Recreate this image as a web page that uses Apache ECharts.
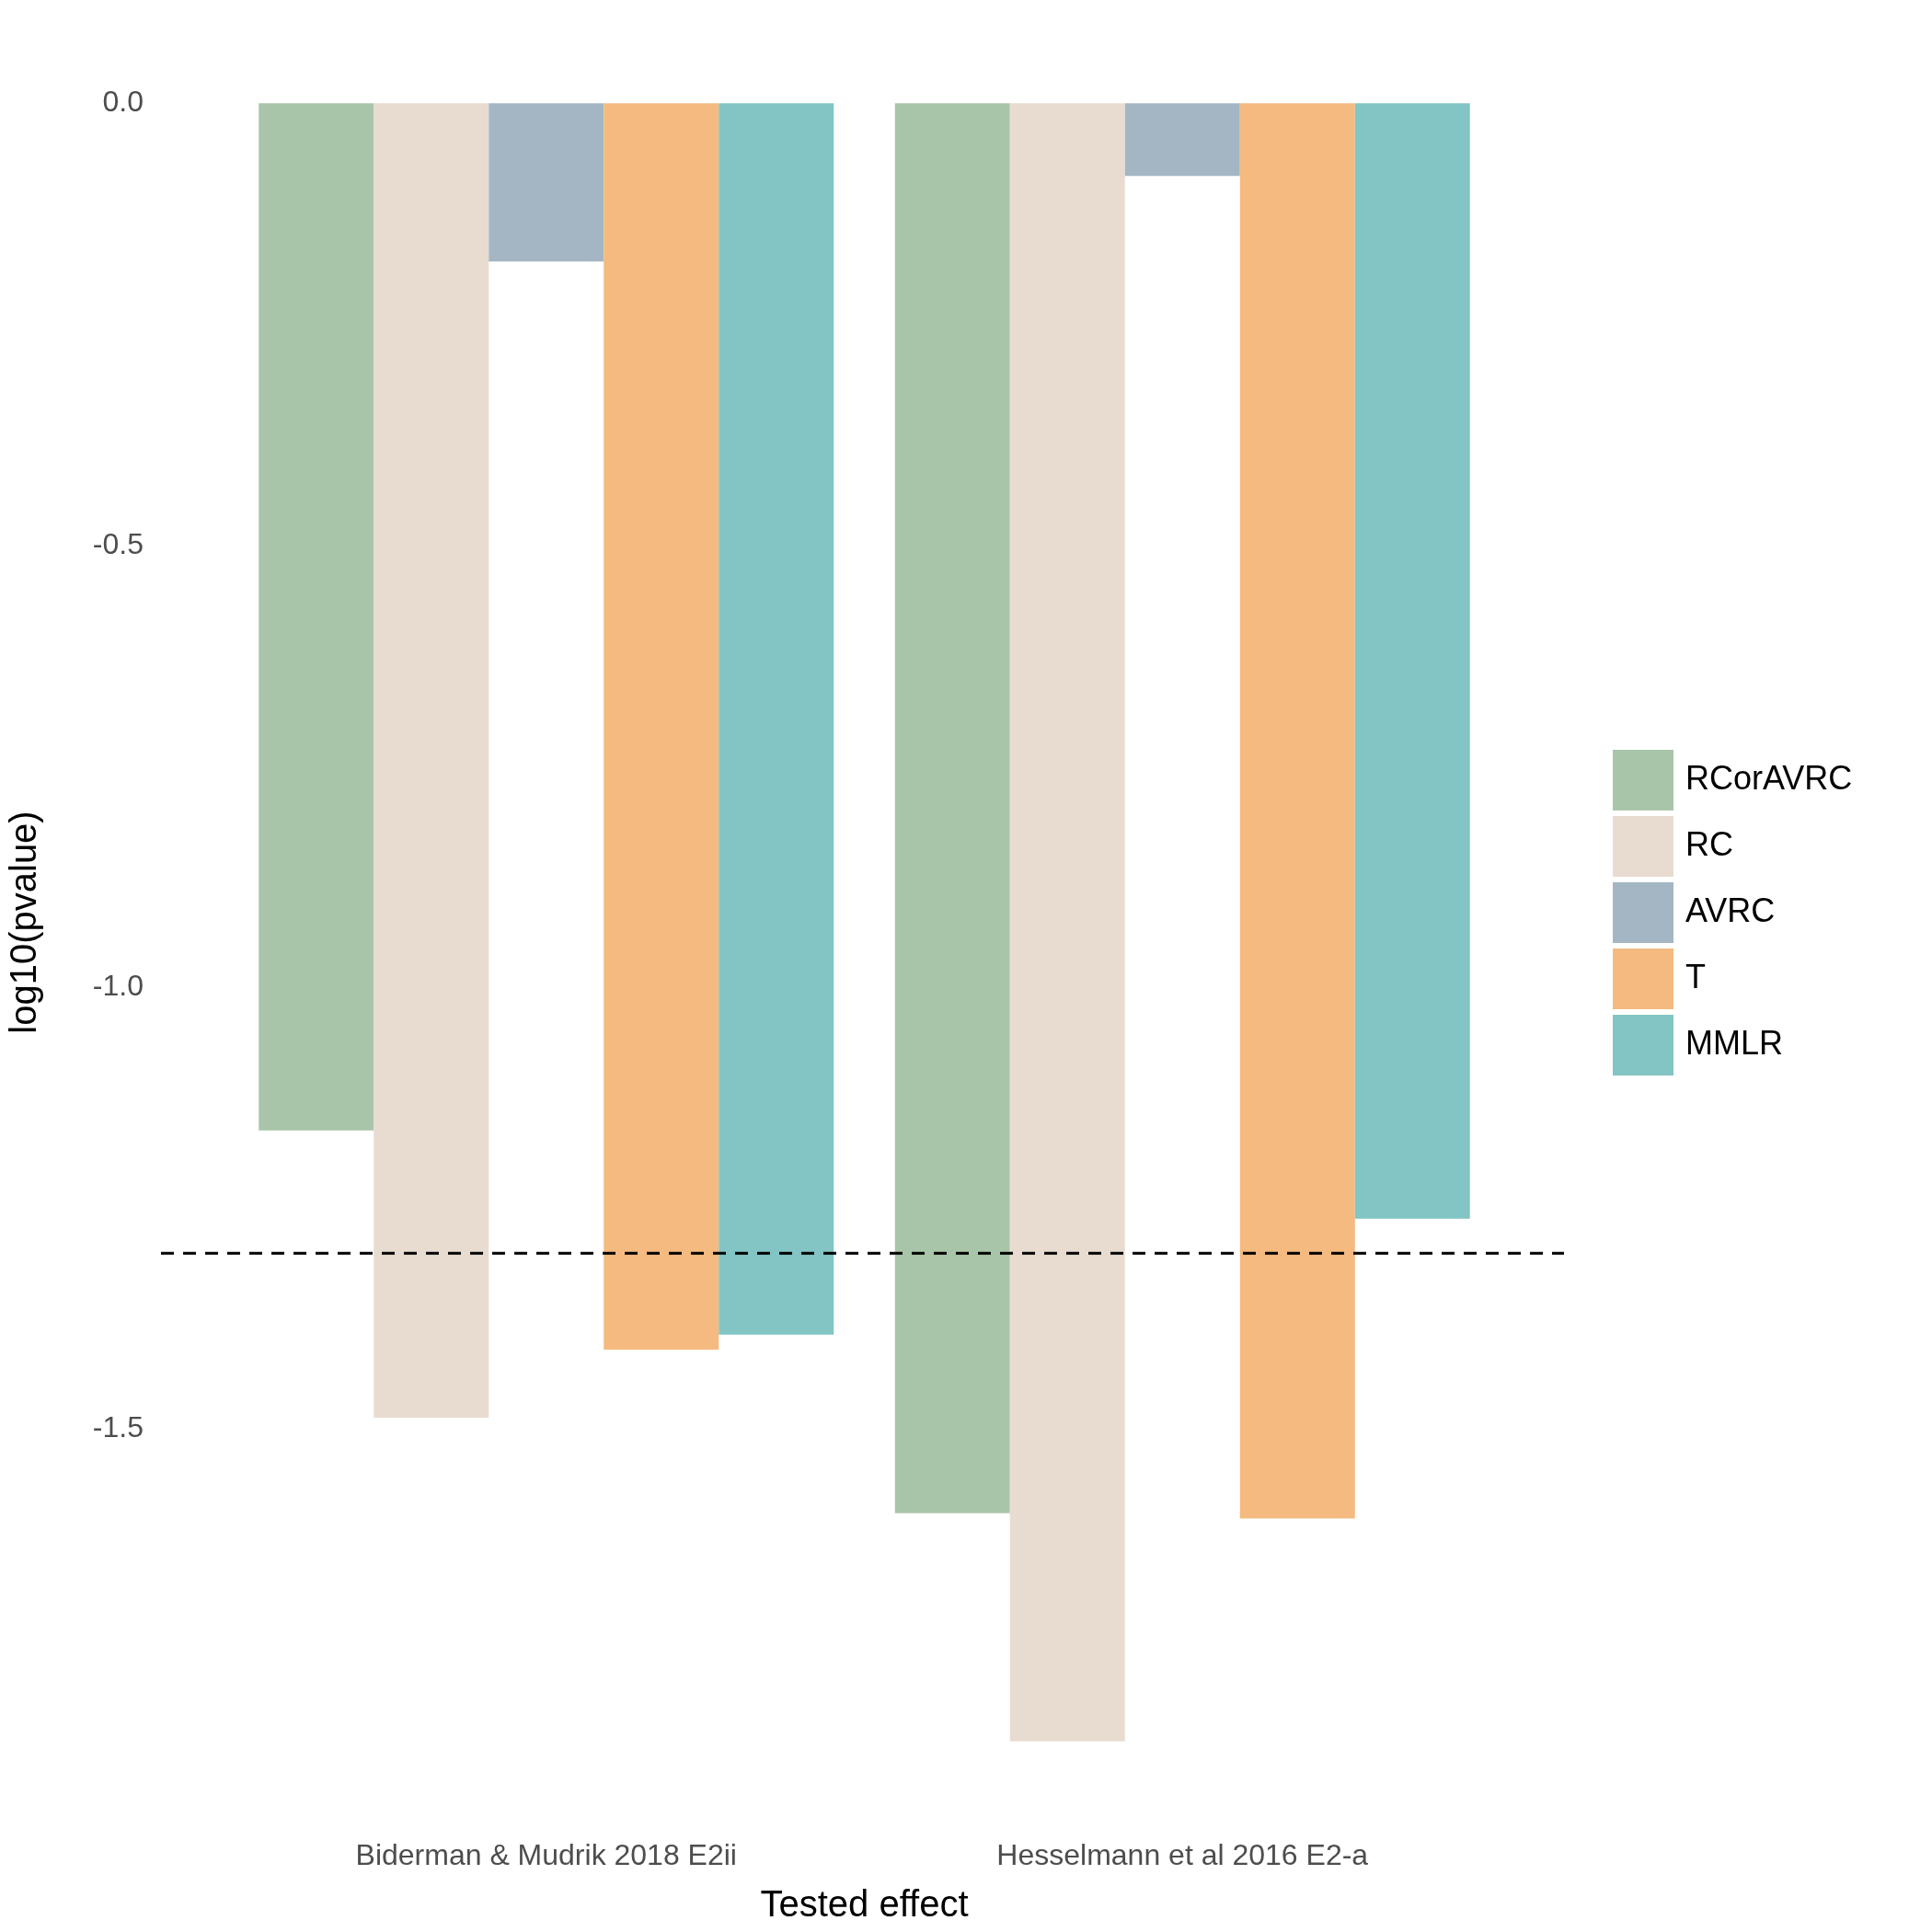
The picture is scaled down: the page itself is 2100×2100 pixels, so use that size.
<!DOCTYPE html>
<html>
<head>
<meta charset="utf-8">
<script src="https://cdn.jsdelivr.net/npm/echarts@6/dist/echarts.min.js"></script>
<style>html,body{margin:0;padding:0;background:#fff}#main{width:2100px;height:2100px}</style>
</head>
<body>
<div id="main"></div>
<script>
var effects = ['Biderman & Mudrik 2018 E2ii', 'Hesselmann et al 2016 E2-a'];
var methods = ['RCorAVRC', 'RC', 'AVRC', 'T', 'MMLR'];
var colors = ['#a9c5a9', '#e8dcd1', '#a4b6c3', '#f5ba80', '#82c5c4'];
var values = {
    RCorAVRC: [-1.162, -1.595],
    RC: [-1.487, -1.853],
    AVRC: [-0.179, -0.082],
    T: [-1.410, -1.601],
    MMLR: [-1.393, -1.262]
};
var threshold = Math.log10(0.05);
var yTicks = [0, -0.5, -1, -1.5];
var yMin = -1.946, yMax = 0.093;

var font = 'Liberation Sans, Arial, sans-serif';
var series = [];
for (var i = 0; i < methods.length; i++) {
    series.push({
        name: methods[i],
        type: 'bar',
        xAxisIndex: 0, yAxisIndex: 0,
        barWidth: 125,
        barGap: '0%',
        itemStyle: {color: colors[i]},
        data: values[methods[i]]
    });
}
// dashed significance line across the full panel
series.push({
    type: 'line',
    xAxisIndex: 1, yAxisIndex: 1,
    symbol: 'none',
    silent: true,
    lineStyle: {color: '#000', width: 3, type: [14, 10]},
    data: [[0.4, threshold], [2.6, threshold]]
});

var chart = echarts.init(document.getElementById('main'));
chart.setOption({
    animation: false,
    backgroundColor: '#fff',
    legend: {
        data: methods,
        orient: 'vertical',
        left: 1753, top: 815,
        padding: 0,
        itemWidth: 66, itemHeight: 66, itemGap: 6,
        icon: 'rect',
        textStyle: {fontSize: 36, fontFamily: font, color: '#000', padding: [0, 0, 0, 8]}
    },
    grid: [
        {left: 244, right: 469, top: 23, height: 1959},
        {left: 175, right: 400, top: 23, height: 1959}
    ],
    xAxis: [{
        type: 'category',
        gridIndex: 0,
        data: effects,
        axisLine: {show: false}, axisTick: {show: false},
        axisLabel: {fontSize: 32, fontFamily: font, color: '#4d4d4d', margin: 20, interval: 0},
        name: 'Tested effect',
        nameLocation: 'middle',
        nameGap: 70,
        nameTextStyle: {fontSize: 40, fontFamily: font, color: '#000'}
    }, {
        type: 'value', gridIndex: 1, min: 0.4, max: 2.6, show: false
    }],
    yAxis: [{
        type: 'value',
        gridIndex: 0,
        min: yMin, max: yMax,
        splitLine: {show: false},
        axisLine: {show: false}, axisTick: {show: false},
        axisLabel: {
            customValues: yTicks,
            fontSize: 32, fontFamily: font, color: '#4d4d4d', margin: 92,
            formatter: function (v) { return v.toFixed(1); }
        },
        name: 'log10(pvalue)',
        nameLocation: 'middle',
        nameGap: 200,
        nameTextStyle: {fontSize: 40, fontFamily: font, color: '#000'}
    }, {
        type: 'value', gridIndex: 1, min: yMin, max: yMax, show: false
    }],
    series: series
});
</script>
</body>
</html>
